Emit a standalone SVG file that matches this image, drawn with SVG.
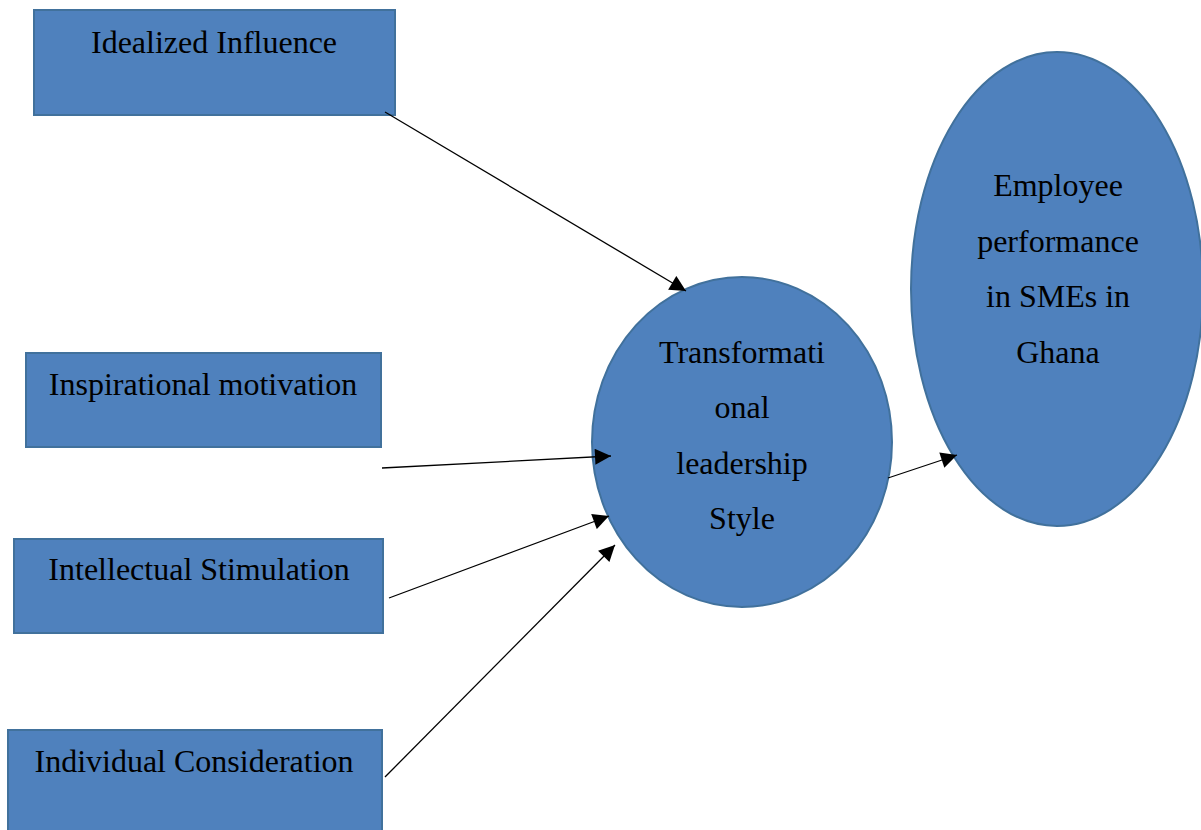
<svg xmlns="http://www.w3.org/2000/svg" width="1201" height="830" viewBox="0 0 1201 830">
<style>
.n{fill:#4F81BD;stroke:#41719C;stroke-width:2}
.t{font-family:"Liberation Serif","Times New Roman",serif;font-size:32px;fill:#000;text-anchor:middle}
.c{stroke:#000;stroke-width:1.3;fill:none;marker-end:url(#ah)}
</style>
<defs>
<marker id="ah" viewBox="0 0 10 10" refX="10" refY="5" markerWidth="17" markerHeight="16" markerUnits="userSpaceOnUse" orient="auto">
<path d="M0,0 L10,5 L0,10 z" fill="#000"/>
</marker>
</defs>
<rect width="1201" height="830" fill="#fff"/>
<g id="idealized"><rect class="n" x="34" y="10" width="361" height="105"/><text class="t" x="214" y="53">Idealized Influence</text></g>
<g id="inspirational"><rect class="n" x="26" y="353" width="355" height="94"/><text class="t" x="203" y="395">Inspirational motivation</text></g>
<g id="intellectual"><rect class="n" x="14" y="539" width="369" height="94"/><text class="t" x="199" y="580">Intellectual Stimulation</text></g>
<g id="individual"><rect class="n" x="8" y="730" width="374" height="102"/><text class="t" x="194" y="772">Individual Consideration</text></g>
<g id="transformational"><ellipse class="n" cx="742" cy="442" rx="150" ry="165"/>
<text class="t" x="742" y="363">Transformati</text><text class="t" x="742" y="418">onal</text><text class="t" x="742" y="474">leadership</text><text class="t" x="742" y="529">Style</text></g>
<g id="employee"><ellipse class="n" cx="1057" cy="289" rx="146" ry="237"/>
<text class="t" x="1058" y="196">Employee</text><text class="t" x="1058" y="252">performance</text><text class="t" x="1058" y="307">in SMEs in</text><text class="t" x="1058" y="363">Ghana</text></g>
<g id="connectors">
<line class="c" x1="385" y1="112" x2="686" y2="291"/>
<line class="c" x1="382" y1="468" x2="611" y2="456"/>
<line class="c" x1="389" y1="598" x2="609" y2="516"/>
<line class="c" x1="385" y1="777" x2="615" y2="545"/>
<line class="c" x1="888" y1="478" x2="957" y2="455"/>
</g>
</svg>
